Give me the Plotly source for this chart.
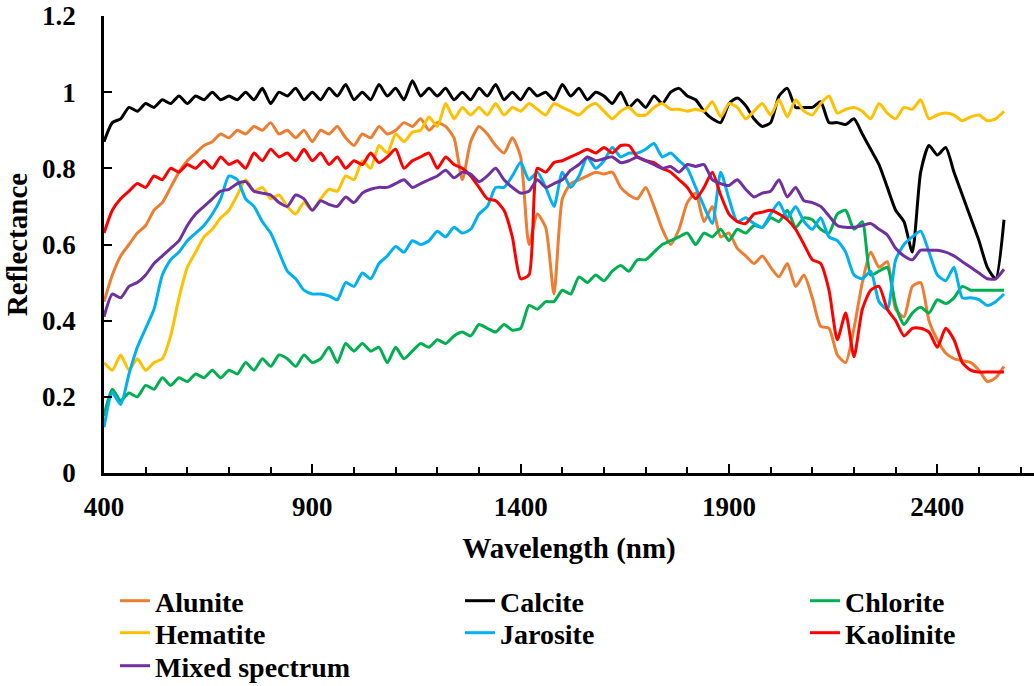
import plotly.graph_objects as go

wavelength = list(range(400, 2561, 20))

alunite = [0.45, 0.52, 0.57, 0.60, 0.63, 0.65, 0.69, 0.71, 0.75, 0.79, 0.82, 0.84, 0.86, 0.87, 0.89, 0.88, 0.90, 0.89, 0.91, 0.90,
           0.92, 0.89, 0.90, 0.88, 0.90, 0.87, 0.90, 0.89, 0.91, 0.88, 0.86, 0.89, 0.88, 0.91, 0.89, 0.90, 0.92, 0.91, 0.93, 0.90,
           0.92, 0.91, 0.88, 0.77, 0.87, 0.91, 0.89, 0.86, 0.84, 0.88, 0.83, 0.60, 0.68, 0.645, 0.47, 0.72, 0.76, 0.77, 0.78, 0.79,
           0.785, 0.79, 0.75, 0.73, 0.72, 0.75, 0.70, 0.64, 0.60, 0.64, 0.71, 0.735, 0.66, 0.70, 0.62, 0.63, 0.59, 0.57, 0.55, 0.57,
           0.54, 0.515, 0.55, 0.49, 0.52, 0.46, 0.385, 0.38, 0.31, 0.29, 0.38, 0.50, 0.58, 0.54, 0.555, 0.43, 0.41, 0.49, 0.50, 0.40,
           0.35, 0.315, 0.30, 0.295, 0.29, 0.27, 0.24, 0.25, 0.28]

calcite = [0.87, 0.92, 0.93, 0.96, 0.95, 0.97, 0.96, 0.98, 0.97, 0.99, 0.97, 0.99, 0.98, 1.00, 0.98, 0.99, 0.98, 1.00, 0.98, 1.01,
           0.97, 1.00, 0.99, 1.01, 0.98, 1.00, 0.98, 1.01, 0.99, 1.02, 0.98, 1.00, 0.98, 1.02, 0.99, 1.01, 0.98, 1.03, 0.99, 1.01,
           0.99, 1.01, 0.98, 1.00, 0.98, 1.01, 0.99, 1.02, 0.98, 1.00, 0.98, 1.01, 0.99, 1.00, 0.98, 1.02, 0.99, 1.01, 0.98, 1.00,
           0.99, 0.97, 1.00, 0.96, 0.98, 0.96, 0.99, 0.97, 1.00, 1.01, 0.99, 0.98, 0.95, 0.93, 0.92, 0.97, 0.985, 0.965, 0.93, 0.91,
           0.92, 0.99, 1.01, 0.96, 0.96, 0.96, 0.975, 0.92, 0.92, 0.915, 0.93, 0.89, 0.85, 0.81, 0.75, 0.69, 0.66, 0.58, 0.79, 0.86,
           0.835, 0.855, 0.79, 0.73, 0.67, 0.61, 0.54, 0.51, 0.665]

chlorite = [0.15, 0.22, 0.19, 0.21, 0.20, 0.23, 0.22, 0.25, 0.23, 0.25, 0.24, 0.26, 0.25, 0.27, 0.25, 0.27, 0.26, 0.29, 0.27, 0.30,
            0.28, 0.31, 0.30, 0.28, 0.31, 0.29, 0.30, 0.33, 0.29, 0.34, 0.32, 0.34, 0.32, 0.33, 0.29, 0.33, 0.30, 0.32, 0.34, 0.33,
            0.35, 0.34, 0.36, 0.37, 0.36, 0.39, 0.38, 0.37, 0.39, 0.375, 0.38, 0.44, 0.43, 0.45, 0.45, 0.48, 0.47, 0.515, 0.50, 0.52,
            0.505, 0.53, 0.545, 0.53, 0.56, 0.56, 0.58, 0.60, 0.61, 0.62, 0.63, 0.60, 0.63, 0.62, 0.64, 0.61, 0.64, 0.63, 0.65, 0.645,
            0.67, 0.66, 0.69, 0.645, 0.67, 0.665, 0.64, 0.63, 0.68, 0.69, 0.64, 0.66, 0.52, 0.53, 0.54, 0.44, 0.39, 0.42, 0.435, 0.42,
            0.455, 0.445, 0.46, 0.49, 0.48, 0.48, 0.48, 0.48, 0.48]

hematite = [0.29, 0.27, 0.31, 0.27, 0.30, 0.27, 0.29, 0.30, 0.36, 0.46, 0.54, 0.58, 0.62, 0.64, 0.67, 0.69, 0.73, 0.77, 0.74, 0.75,
            0.72, 0.73, 0.70, 0.68, 0.71, 0.69, 0.72, 0.745, 0.74, 0.78, 0.77, 0.82, 0.80, 0.86, 0.84, 0.89, 0.87, 0.895, 0.90, 0.935,
            0.91, 0.97, 0.93, 0.96, 0.94, 0.96, 0.94, 0.97, 0.94, 0.96, 0.95, 0.97, 0.955, 0.94, 0.97, 0.96, 0.95, 0.94, 0.96, 0.97,
            0.95, 0.93, 0.95, 0.96, 0.94, 0.94, 0.96, 0.97, 0.955, 0.955, 0.95, 0.955, 0.95, 0.975, 0.935, 0.97, 0.96, 0.93, 0.95, 0.97,
            0.94, 0.98, 0.935, 0.98, 0.95, 0.94, 0.97, 0.99, 0.945, 0.955, 0.96, 0.95, 0.93, 0.97, 0.945, 0.93, 0.96, 0.955, 0.98, 0.93,
            0.94, 0.945, 0.94, 0.925, 0.935, 0.94, 0.925, 0.93, 0.95]

jarosite = [0.12, 0.21, 0.18, 0.26, 0.33, 0.38, 0.43, 0.52, 0.56, 0.58, 0.61, 0.63, 0.65, 0.68, 0.72, 0.78, 0.77, 0.72, 0.70, 0.66,
            0.63, 0.58, 0.53, 0.51, 0.48, 0.47, 0.47, 0.465, 0.455, 0.50, 0.49, 0.525, 0.51, 0.55, 0.57, 0.595, 0.58, 0.61, 0.60, 0.61,
            0.635, 0.62, 0.645, 0.63, 0.64, 0.68, 0.70, 0.75, 0.75, 0.78, 0.815, 0.77, 0.79, 0.75, 0.70, 0.79, 0.75, 0.78, 0.83, 0.80,
            0.82, 0.855, 0.83, 0.84, 0.84, 0.85, 0.865, 0.83, 0.84, 0.82, 0.80, 0.75, 0.70, 0.655, 0.79, 0.72, 0.66, 0.67, 0.655, 0.645,
            0.68, 0.71, 0.67, 0.70, 0.66, 0.64, 0.67, 0.62, 0.61, 0.58, 0.52, 0.51, 0.53, 0.45, 0.43, 0.56, 0.60, 0.62, 0.635, 0.58,
            0.52, 0.505, 0.54, 0.46, 0.46, 0.455, 0.44, 0.45, 0.47]

kaolinite = [0.63, 0.69, 0.72, 0.74, 0.76, 0.75, 0.78, 0.77, 0.80, 0.79, 0.81, 0.80, 0.82, 0.80, 0.83, 0.81, 0.82, 0.80, 0.84, 0.82,
             0.85, 0.83, 0.84, 0.82, 0.85, 0.82, 0.84, 0.81, 0.83, 0.80, 0.82, 0.81, 0.84, 0.815, 0.83, 0.85, 0.80, 0.82, 0.83, 0.84,
             0.80, 0.83, 0.81, 0.80, 0.78, 0.75, 0.72, 0.715, 0.69, 0.62, 0.51, 0.52, 0.80, 0.79, 0.815, 0.82, 0.83, 0.84, 0.85, 0.84,
             0.855, 0.84, 0.86, 0.86, 0.83, 0.82, 0.815, 0.80, 0.79, 0.77, 0.75, 0.72, 0.75, 0.79, 0.73, 0.68, 0.66, 0.655, 0.68, 0.685,
             0.69, 0.68, 0.665, 0.64, 0.60, 0.56, 0.55, 0.48, 0.35, 0.42, 0.305, 0.43, 0.48, 0.49, 0.43, 0.40, 0.36, 0.38, 0.38, 0.37,
             0.33, 0.38, 0.35, 0.29, 0.27, 0.265, 0.265, 0.265, 0.265]

mixed = [0.41, 0.47, 0.46, 0.49, 0.50, 0.52, 0.55, 0.57, 0.59, 0.61, 0.65, 0.68, 0.70, 0.72, 0.74, 0.745, 0.76, 0.765, 0.74, 0.735,
         0.73, 0.71, 0.70, 0.73, 0.72, 0.69, 0.715, 0.705, 0.70, 0.725, 0.71, 0.735, 0.745, 0.75, 0.75, 0.76, 0.77, 0.75, 0.76, 0.77,
         0.78, 0.795, 0.775, 0.79, 0.785, 0.765, 0.78, 0.80, 0.77, 0.75, 0.735, 0.74, 0.77, 0.75, 0.76, 0.77, 0.795, 0.81, 0.83, 0.82,
         0.825, 0.83, 0.815, 0.82, 0.83, 0.82, 0.81, 0.80, 0.805, 0.79, 0.81, 0.805, 0.81, 0.77, 0.76, 0.755, 0.77, 0.745, 0.725, 0.735,
         0.74, 0.77, 0.725, 0.75, 0.715, 0.71, 0.70, 0.675, 0.65, 0.645, 0.645, 0.65, 0.655, 0.64, 0.625, 0.59, 0.57, 0.56, 0.585, 0.585,
         0.585, 0.58, 0.57, 0.555, 0.54, 0.525, 0.51, 0.51, 0.535]

series_names = ["Alunite", "Calcite", "Chlorite", "Hematite", "Jarosite", "Kaolinite", "Mixed spectrum"]
series_values = [alunite, calcite, chlorite, hematite, jarosite, kaolinite, mixed]
series_colors = ["#ED7D31", "#000000", "#00B050", "#FFC000", "#00B0F0", "#FF0000", "#7030A0"]

FONT = "Liberation Serif, Times New Roman, serif"

# plot area in pixels (for placing the legend entries in a 3-column grid)
PLOT_L, PLOT_W, PLOT_T, PLOT_H = 104, 930, 16, 457
legend_cols_px = [115, 460, 805, 115, 460, 805, 115]
legend_rows_px = [601, 601, 601, 633, 633, 633, 666]

fig = go.Figure()
layout_legends = {}
for i, (name, vals, col) in enumerate(zip(series_names, series_values, series_colors)):
    lid = "legend" if i == 0 else f"legend{i + 1}"
    fig.add_trace(go.Scatter(x=wavelength, y=vals, mode="lines", name=name, legend=lid,
                             line=dict(color=col, width=3, shape="spline", smoothing=0.6)))
    layout_legends[lid] = dict(
        x=(legend_cols_px[i] - PLOT_L) / PLOT_W, xanchor="left",
        y=(PLOT_T + PLOT_H - legend_rows_px[i]) / PLOT_H, yanchor="middle",
        orientation="v", bgcolor="rgba(0,0,0,0)", borderwidth=0,
        font=dict(family=FONT, size=28, color="black", weight="bold"),
    )

fig.update_layout(
    width=1034, height=686,
    margin=dict(l=PLOT_L, r=0, t=PLOT_T, b=686 - PLOT_T - PLOT_H, autoexpand=False),
    paper_bgcolor="white", plot_bgcolor="white",
    font=dict(family=FONT, size=27, color="black", weight="bold"),
    xaxis=dict(range=[400, 2632], tick0=400, dtick=500, showline=True, linecolor="black", linewidth=2.5,
               ticks="inside", ticklen=9, tickwidth=2, tickcolor="black", showgrid=False, zeroline=False,
               minor=dict(dtick=100, ticks="inside", ticklen=6, tickwidth=2, tickcolor="black", showgrid=False),
               ticklabelstandoff=8,
               tickfont=dict(family=FONT, size=27, color="black", weight="bold"),
               title=dict(text="Wavelength (nm)", font=dict(family=FONT, size=29, color="black", weight="bold"),
                          standoff=17)),
    yaxis=dict(range=[0, 1.2], tick0=0, dtick=0.2, showline=True, linecolor="black", linewidth=2.5,
               ticks="inside", ticklen=8, tickwidth=2, tickcolor="black", showgrid=False, zeroline=False,
               tickformat="~g", ticklabelstandoff=20,
               tickfont=dict(family=FONT, size=27, color="black", weight="bold"),
               title=dict(text="Reflectance", font=dict(family=FONT, size=29, color="black", weight="bold"),
                          standoff=6)),
    showlegend=True,
    **layout_legends,
)

fig.write_html("out.html")
